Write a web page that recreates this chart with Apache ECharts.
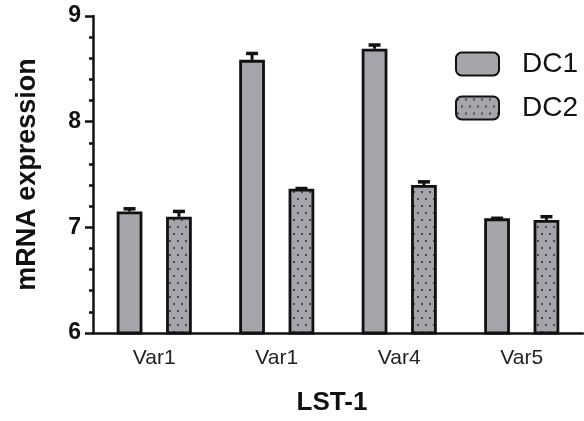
<!DOCTYPE html>
<html><head><meta charset="utf-8">
<script src="https://cdn.jsdelivr.net/npm/echarts@6/dist/echarts.min.js"></script>
<style>html,body{margin:0;padding:0;background:#fff}#c{width:584px;height:421px}</style>
</head><body><div id="c"></div>
<script>
var categories = ['Var1', 'Var1', 'Var4', 'Var5'];
var dc1 = [7.15, 8.585, 8.69, 7.085];
var dc1Err = [0.035, 0.07, 0.045, 0.01];
var dc2 = [7.10, 7.365, 7.40, 7.07];
var dc2Err = [0.06, 0.012, 0.04, 0.04];
var yTicks = [6, 7, 8, 9];

var BAR_W = 0.21, BAR_GAP = 0.92;
var fillGray = '#a5a5ab';
var FONT = 'Liberation Sans, Arial, sans-serif';

function dotPattern() {
  var c = document.createElement('canvas');
  c.width = 8; c.height = 14;
  var g = c.getContext('2d');
  g.fillStyle = fillGray; g.fillRect(0, 0, 8, 14);
  g.fillStyle = '#4a4a4e';
  g.fillRect(1, 2, 2, 2);
  g.fillRect(5, 9, 2, 2);
  return c;
}

function errSeries(vals, errs, side) {
  return {
    type: 'custom',
    z: 5,
    silent: true,
    data: vals.map(function (v, i) { return [i, v, v + errs[i]]; }),
    renderItem: function (params, api) {
      var band = api.size([1, 0])[0];
      var off = band * BAR_W * (1 + BAR_GAP) / 2 * side;
      var p0 = api.coord([api.value(0), api.value(1)]);
      var p1 = api.coord([api.value(0), api.value(2)]);
      var x = p0[0] + off;
      var top = p1[1];
      return {
        type: 'group',
        children: [
          { type: 'line', shape: { x1: x, y1: p0[1], x2: x, y2: top }, style: { stroke: '#111', lineWidth: 3 } },
          { type: 'line', shape: { x1: x - 6, y1: top + 1, x2: x + 6, y2: top + 1 }, style: { stroke: '#111', lineWidth: 3.5 } }
        ]
      };
    }
  };
}

var chart = echarts.init(document.getElementById('c'));
chart.setOption({
  animation: false,
  backgroundColor: '#fff',
  grid: { left: 93, right: 1, top: 16, bottom: 79 },
  legend: {
    data: ['DC1', 'DC2'],
    orient: 'vertical',
    left: 455, top: 50, padding: 0,
    itemWidth: 43, itemHeight: 23, itemGap: 16,
    textStyle: { fontFamily: FONT, fontSize: 28, lineHeight: 28, color: '#111', padding: [0, 0, 0, 18] }
  },
  xAxis: {
    type: 'category',
    data: categories,
    axisLine: { lineStyle: { color: '#111', width: 2.5 } },
    axisTick: { alignWithLabel: true, length: 7, lineStyle: { color: '#111', width: 2.5 } },
    axisLabel: { fontFamily: FONT, fontSize: 21, color: '#222', margin: 15 },
    name: 'LST-1',
    nameLocation: 'middle',
    nameGap: 57,
    nameTextStyle: { fontFamily: FONT, fontSize: 26, fontWeight: 'bold', color: '#111', padding: [0, 12, 0, 0] }
  },
  yAxis: {
    type: 'value',
    min: yTicks[0], max: yTicks[yTicks.length - 1], interval: 1,
    axisLine: { show: true, lineStyle: { color: '#111', width: 2.5 } },
    axisTick: { show: true, length: 8, lineStyle: { color: '#111', width: 2.5 } },
    minorTick: { show: true, splitNumber: 5, length: 4, lineStyle: { color: '#111', width: 2.5 } },
    splitLine: { show: false },
    axisLabel: { fontFamily: FONT, fontSize: 23, fontWeight: 'bold', color: '#111', margin: 12 },
    name: 'mRNA expression',
    nameLocation: 'middle',
    nameGap: 52,
    nameTextStyle: { fontFamily: FONT, fontSize: 27, fontWeight: 'bold', color: '#111' }
  },
  series: [
    {
      name: 'DC1', type: 'bar', data: dc1,
      barWidth: (BAR_W * 100) + '%', barGap: (BAR_GAP * 100) + '%',
      itemStyle: { color: fillGray, borderColor: '#111', borderWidth: 2.8 }
    },
    {
      name: 'DC2', type: 'bar', data: dc2,
      barWidth: (BAR_W * 100) + '%', barGap: (BAR_GAP * 100) + '%',
      itemStyle: { color: { image: dotPattern(), repeat: 'repeat' }, borderColor: '#111', borderWidth: 2.8 }
    },
    errSeries(dc1, dc1Err, -1),
    errSeries(dc2, dc2Err, 1)
  ]
});
</script></body></html>
